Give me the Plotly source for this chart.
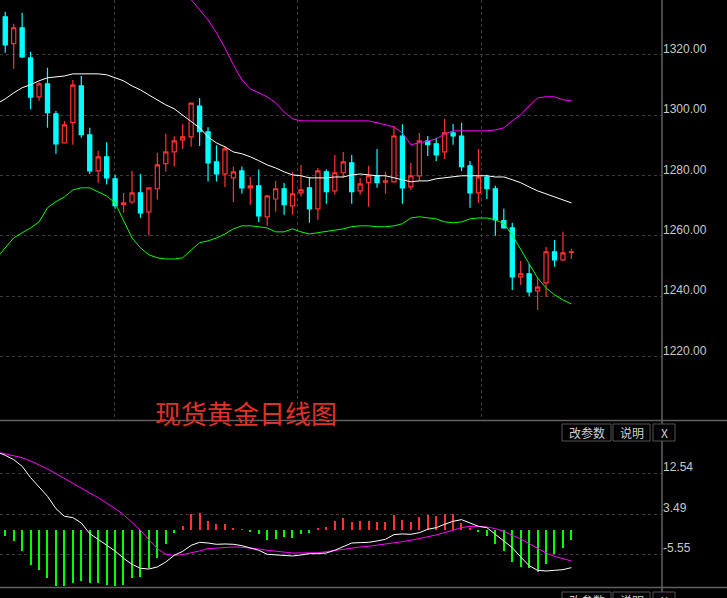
import plotly.graph_objects as go

# ---- data (daily spot gold) ----
opens = [1325.3, 1330.6, 1321.7, 1327.0, 1317.0, 1304.1, 1308.4, 1298.4, 1288.8, 1295.5,
         1307.7, 1291.5, 1279.5, 1284.2, 1276.9, 1268.3, 1269.2, 1272.2, 1265.9, 1273.6,
         1281.9, 1285.8, 1289.8, 1290.8, 1301.0, 1292.5, 1282.5, 1278.5, 1277.2, 1279.5,
         1273.9, 1274.6, 1264.3, 1270.2, 1273.6, 1267.9, 1272.2, 1273.9, 1266.9, 1279.2,
         1272.9, 1278.9, 1282.2, 1272.9, 1275.6, 1277.9, 1275.8, 1275.9, 1291.1, 1274.2,
         1277.9, 1289.5, 1288.5, 1285.8, 1292.1, 1291.1, 1281.2, 1272.2, 1277.5, 1273.6,
         1263.0, 1260.6, 1244.4, 1245.4, 1239.7, 1242.4, 1252.7, 1250.0, 1252.5]
highs = [1331.0, 1332.3, 1328.3, 1332.0, 1319.0, 1309.0, 1313.7, 1299.4, 1296.1, 1309.7,
         1311.0, 1293.8, 1286.2, 1289.0, 1278.2, 1272.2, 1279.5, 1278.5, 1273.9, 1285.5,
         1291.8, 1291.0, 1295.1, 1302.0, 1303.7, 1294.0, 1288.0, 1287.8, 1280.9, 1281.0,
         1277.5, 1280.0, 1271.6, 1276.2, 1275.5, 1279.2, 1281.5, 1277.5, 1280.5, 1280.0,
         1284.8, 1285.8, 1284.8, 1277.2, 1281.2, 1286.8, 1279.2, 1294.5, 1295.0, 1282.2,
         1292.1, 1291.1, 1290.5, 1296.8, 1295.1, 1295.5, 1282.8, 1286.8, 1278.2, 1274.6,
         1267.0, 1262.3, 1249.7, 1248.7, 1244.0, 1254.3, 1256.6, 1259.3, 1253.7]
lows = [1322.0, 1318.7, 1313.4, 1317.0, 1300.0, 1302.8, 1293.8, 1285.2, 1288.8, 1288.2,
        1290.5, 1278.5, 1275.6, 1275.0, 1267.0, 1265.6, 1268.6, 1264.0, 1258.0, 1270.0,
        1279.2, 1281.0, 1286.8, 1287.5, 1287.8, 1276.0, 1276.0, 1274.2, 1269.2, 1272.0,
        1268.3, 1262.6, 1261.3, 1266.0, 1265.0, 1265.0, 1271.0, 1262.3, 1263.3, 1268.6,
        1271.6, 1277.2, 1268.6, 1271.6, 1267.6, 1273.9, 1271.9, 1275.6, 1268.6, 1273.2,
        1276.2, 1284.5, 1282.8, 1283.5, 1288.2, 1279.5, 1267.3, 1268.9, 1270.2, 1258.0,
        1260.6, 1240.0, 1241.7, 1238.0, 1233.4, 1237.7, 1247.7, 1249.7, 1250.3]
closes = [1329.6, 1321.3, 1327.0, 1317.3, 1304.0, 1308.4, 1298.8, 1288.5, 1294.8, 1308.0,
          1291.5, 1279.5, 1284.2, 1277.2, 1268.0, 1268.9, 1272.2, 1265.6, 1273.9, 1281.5,
          1285.8, 1289.5, 1290.8, 1302.0, 1292.5, 1282.2, 1278.5, 1286.8, 1279.2, 1273.9,
          1274.6, 1264.6, 1271.2, 1273.6, 1268.3, 1271.9, 1273.2, 1266.9, 1279.5, 1272.6,
          1278.9, 1282.5, 1272.6, 1275.2, 1277.9, 1275.6, 1276.2, 1291.1, 1273.9, 1277.9,
          1289.5, 1288.2, 1284.8, 1292.1, 1291.1, 1280.9, 1272.2, 1277.5, 1273.6, 1263.3,
          1260.6, 1244.4, 1245.4, 1239.4, 1241.0, 1252.7, 1250.0, 1252.3, 1252.7]

boll_mid = [1301.8, 1303.4, 1305.4, 1307.1, 1308.1, 1309.4, 1310.4, 1310.7, 1311.0, 1311.7,
            1311.7, 1311.7, 1311.7, 1311.4, 1310.4, 1309.4, 1307.7, 1306.4, 1304.7, 1303.1,
            1301.4, 1300.1, 1298.1, 1295.8, 1293.8, 1290.8, 1288.8, 1287.5, 1285.8, 1285.2,
            1284.2, 1282.9, 1281.5, 1280.5, 1279.2, 1278.2, 1277.9, 1277.2, 1277.2, 1277.2,
            1277.5, 1277.5, 1278.2, 1278.5, 1278.2, 1277.9, 1277.9, 1277.2, 1276.6, 1275.9,
            1276.2, 1276.2, 1276.9, 1277.2, 1277.5, 1277.9, 1277.9, 1277.9, 1277.9, 1277.5,
            1277.5, 1276.6, 1275.6, 1274.2, 1272.9, 1271.9, 1270.9, 1269.9, 1268.9]
boll_up = [None] * 20 + [
    1342.9, 1340.2, 1337.9, 1336.3, 1333.0, 1329.6, 1325.3, 1320.3, 1314.7, 1309.7,
    1306.7, 1305.4, 1304.1, 1302.1, 1299.1, 1296.8, 1296.1, 1296.1, 1296.1, 1296.1,
    1296.1, 1296.1, 1296.1, 1296.1, 1296.1, 1295.5, 1294.8, 1294.1, 1292.1, 1288.2,
    1288.8, 1289.5, 1290.1, 1291.8, 1292.8, 1292.8, 1292.8, 1292.8, 1292.8, 1293.1,
    1293.8, 1296.1, 1298.1, 1301.1, 1303.7, 1304.1, 1304.1, 1303.1, 1302.8]
boll_low = [1250.7, 1254.0, 1257.3, 1259.0, 1260.6, 1262.6, 1267.3, 1269.3, 1270.9, 1273.2,
            1273.9, 1273.9, 1272.6, 1271.2, 1268.9, 1263.3, 1257.3, 1254.0, 1251.7, 1250.7,
            1250.3, 1250.3, 1250.7, 1253.3, 1255.7, 1256.3, 1257.3, 1258.6, 1260.3, 1261.3,
            1261.3, 1261.0, 1260.6, 1259.3, 1259.3, 1260.3, 1259.3, 1258.6, 1259.0, 1259.6,
            1260.0, 1260.3, 1261.0, 1261.3, 1261.3, 1261.0, 1261.0, 1261.3, 1262.0, 1263.9,
            1264.3, 1263.9, 1263.6, 1262.6, 1262.3, 1262.6, 1263.6, 1263.9, 1263.9, 1263.3,
            1262.0, 1258.3, 1253.3, 1248.7, 1244.0, 1240.7, 1238.4, 1236.7, 1235.4]

dif = [15.92, 15.18, 14.21, 12.72, 10.19, 8.10, 6.02, 3.26, 1.55, 1.25,
       0.06, -2.33, -3.67, -4.86, -6.20, -7.84, -9.18, -10.08, -10.23, -9.78,
       -8.66, -7.17, -6.28, -4.94, -4.27, -4.42, -4.71, -4.64, -4.71, -5.01,
       -5.46, -6.05, -6.95, -7.02, -7.17, -7.32, -7.10, -6.80, -6.80, -6.65,
       -6.05, -5.16, -4.42, -4.34, -4.27, -3.97, -3.59, -2.55, -2.40, -2.48,
       -2.11, -1.36, -0.99, -0.24, 0.43, 0.80, 0.06, -0.69, -0.99, -2.48,
       -3.97, -5.46, -7.54, -9.48, -10.53, -10.68, -10.53, -10.38, -9.93]
dea = [15.92, 15.55, 15.18, 14.65, 13.91, 13.09, 12.12, 11.08, 9.96, 8.99,
       7.88, 6.76, 5.72, 4.53, 3.26, 1.92, 0.28, -1.58, -3.67, -5.68,
       -6.95, -7.17, -7.02, -6.65, -6.20, -5.68, -5.53, -5.46, -5.31, -5.38,
       -5.53, -5.76, -6.05, -6.28, -6.50, -6.65, -6.65, -6.65, -6.58, -6.35,
       -6.05, -5.83, -5.53, -5.31, -5.16, -4.94, -4.71, -4.49, -4.11, -3.82,
       -3.44, -3.07, -2.62, -2.11, -1.58, -0.99, -0.69, -0.69, -0.84, -1.21,
       -1.81, -2.70, -3.52, -4.56, -5.68, -6.65, -7.40, -7.99, -8.44]
macd_hist = [None,
             -1.34, -2.46, -4.69, -7.82, -8.94, -10.65, -12.67, -12.67, -11.77, -11.40,
             -11.77, -11.92, -12.29, -12.67, -12.29, -10.65, -10.43, -8.42, -6.18, -3.05,
             -0.60, 0.89, 3.50, 3.87, 2.01, 1.27, 1.42, 0.37, 0.10, -0.45,
             -0.97, -2.31, -2.09, -1.56, -1.71, -0.82, -0.60, 0.37, 0.67, 2.01,
             2.76, 1.86, 2.01, 2.01, 1.86, 1.86, 3.35, 2.24, 1.86, 2.98,
             3.35, 3.13, 3.65, 3.50, 1.64, 0.37, -0.45, -1.34, -3.20, -4.69,
             -7.08, -8.20, -8.42, -9.31, -7.67, -5.44, -3.95, -2.31]

price_ticks = [1220, 1240, 1260, 1280, 1300, 1320]
macd_ticks = [12.54, 3.49, -5.55]

# values above were read against label centres; the software prints labels ~6px above their lines
PRICE_FIX = 2.0
MACD_FIX = 1.5
opens = [v + PRICE_FIX for v in opens]
highs = [v + PRICE_FIX for v in highs]
lows = [v + PRICE_FIX for v in lows]
closes = [v + PRICE_FIX for v in closes]
boll_mid = [v + PRICE_FIX for v in boll_mid]
boll_up = [None if v is None else v + PRICE_FIX for v in boll_up]
boll_low = [v + PRICE_FIX for v in boll_low]
dif = [v + MACD_FIX for v in dif]
dea = [v + MACD_FIX for v in dea]

idx = list(range(len(closes)))
RED = "#ff3232"
CYAN = "#00ffff"
GREEN = "#00ff00"
MAG = "#ff00ff"
W, H = 727, 598
XR = 662 / W

fig = go.Figure()

fig.add_trace(go.Candlestick(
    x=idx, open=opens, high=highs, low=lows, close=closes,
    increasing=dict(line=dict(color=RED, width=1.2), fillcolor="black"),
    decreasing=dict(line=dict(color=CYAN, width=1.2), fillcolor=CYAN),
    whiskerwidth=0, hoverinfo="skip", showlegend=False))

for ys, col in [(boll_mid, "white"), (boll_up, MAG), (boll_low, GREEN)]:
    fig.add_trace(go.Scatter(x=idx, y=ys, mode="lines", line=dict(color=col, width=1),
                             hoverinfo="skip", showlegend=False))

fig.add_trace(go.Bar(
    x=idx, y=macd_hist, xaxis="x2", yaxis="y2", width=0.14,
    marker=dict(color=[GREEN if (v is None or v < 0) else RED for v in macd_hist], line_width=0),
    hoverinfo="skip", showlegend=False))
fig.add_trace(go.Scatter(x=idx, y=dea, xaxis="x2", yaxis="y2", mode="lines",
                         line=dict(color=MAG, width=1), hoverinfo="skip", showlegend=False))
fig.add_trace(go.Scatter(x=idx, y=dif, xaxis="x2", yaxis="y2", mode="lines",
                         line=dict(color="white", width=1), hoverinfo="skip", showlegend=False))

grid = dict(gridcolor="#3c3c3c", griddash="dot", gridwidth=1)
xcommon = dict(range=[0.38, 78.72], showticklabels=False, zeroline=False, showline=False,
               ticks="", tickvals=[13.9, 35.6, 57.4], rangeslider=dict(visible=False), **grid)

fig.update_layout(
    width=W, height=H,
    paper_bgcolor="black", plot_bgcolor="black",
    margin=dict(l=0, r=0, t=0, b=0),
    font=dict(family="Liberation Sans, Arial", color="#c8c8c8", size=12),
    bargap=0,
    xaxis=dict(domain=[0, XR], anchor="y", **xcommon),
    yaxis=dict(domain=[1 - 420 / H, 1], range=[1198.9, 1338.2], side="right",
               tickvals=price_ticks, tickformat=".2f", ticklabelshift=-6, ticks="",
               zeroline=False, showline=False, **grid),
    xaxis2=dict(domain=[0, XR], anchor="y2", matches="x", **dict(xcommon, showgrid=False)),
    yaxis2=dict(domain=[1 - 586 / H, 1 - 422 / H], range=[-12.53, 24.12], side="right",
                tickvals=macd_ticks, ticktext=["12.54", "3.49", "-5.55"], ticklabelshift=-7,
                ticks="", zeroline=False, showline=False, **grid),
)

# panel frame lines
line = dict(color="#606060", width=1.5)
for py in [420.5, 587.5]:
    fig.add_shape(type="line", xref="paper", yref="paper", x0=0, x1=1,
                  y0=1 - py / H, y1=1 - py / H, line=line)
fig.add_shape(type="line", xref="paper", yref="paper", x0=XR, x1=XR, y0=0, y1=1, line=line)

# small buttons of the indicator panes (the lower pane is cut by the window edge)
for top in [424, 592]:
    for x0, x1, txt in [(562, 611, "改参数"), (613, 650, "说明"), (653, 675, "X")]:
        fig.add_shape(type="rect", xref="paper", yref="paper",
                      x0=x0 / W, x1=x1 / W, y0=1 - (top + 17) / H, y1=1 - top / H,
                      line=dict(color="#555555", width=1), fillcolor="black")
        fig.add_annotation(x=(x0 + x1) / 2 / W, y=1 - (top + 8.5) / H, xref="paper", yref="paper",
                           text=txt, showarrow=False, xanchor="center", yanchor="middle",
                           font=dict(family="Noto Sans CJK SC", size=12, color="#d0d0d0"))

fig.add_annotation(x=246 / W, y=1 - 412 / H, xref="paper", yref="paper",
                   text="现货黄金日线图", showarrow=False, xanchor="center", yanchor="middle",
                   font=dict(family="Noto Sans CJK SC", size=26, color="#e0302a"))

fig.write_html("out.html", config={"displayModeBar": False},
               post_script="document.body.style.margin='0';"
               "document.body.style.overflow='hidden';"
               "document.body.style.background='black';")
